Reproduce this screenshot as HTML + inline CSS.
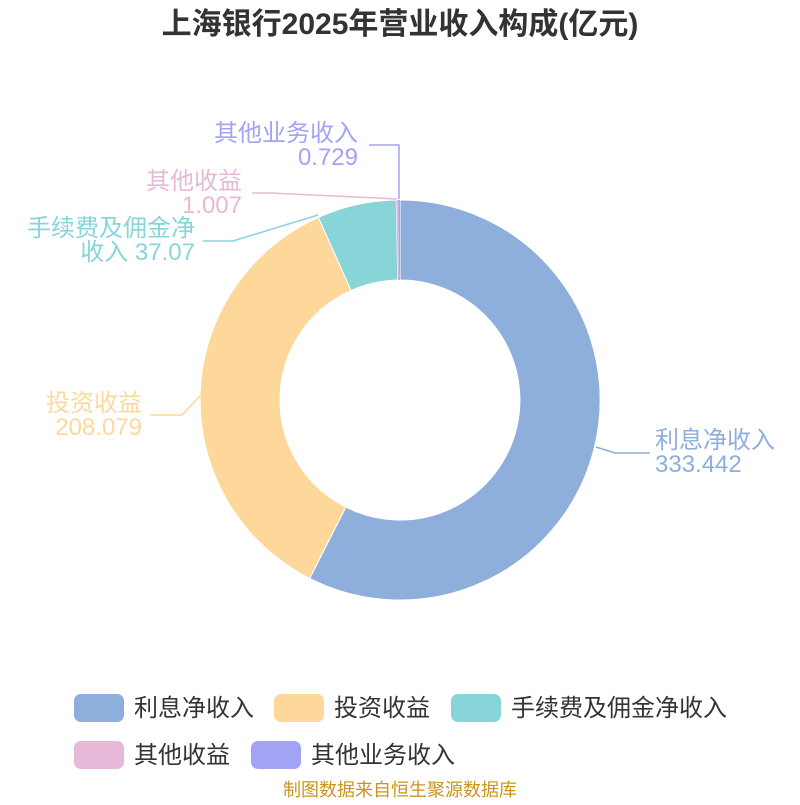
<!DOCTYPE html>
<html><head><meta charset="utf-8"><style>
body{margin:0;background:#fff;}
svg text{font-family:"Liberation Sans","Noto Sans CJK SC",sans-serif;}
</style></head><body>
<svg width="800" height="800" viewBox="0 0 800 800" xmlns="http://www.w3.org/2000/svg">
<text x="400" y="34" text-anchor="middle" font-size="30" font-weight="bold" fill="#333">上海银行2025年营业收入构成(亿元)</text>
<g stroke="#fff" stroke-width="1">
<path d="M400,200 A200,200 0 1,1 309.7,578.4 L345.8,507.1 A120,120 0 1,0 400,280 Z" fill="#8eaedb"/>
<path d="M309.7,578.4 A200,200 0 0,1 318.4,217.4 L351.1,290.4 A120,120 0 0,0 345.8,507.1 Z" fill="#fed89b"/>
<path d="M318.4,217.4 A200,200 0 0,1 396.3,200 L397.8,280 A120,120 0 0,0 351.1,290.4 Z" fill="#87d5d8"/>
<path d="M396.3,200 A200,200 0 0,1 398.4,200 L399.1,280 A120,120 0 0,0 397.8,280 Z" fill="#e6b9d8" stroke="none"/>
<path d="M398.4,200 A200,200 0 0,1 400,200 L400,280 A120,120 0 0,0 399.1,280 Z" fill="#a3a3f5" stroke="none"/>
</g>
<g fill="none" stroke-width="1.5">
<polyline points="596,447 615,453 650,453" stroke="#8eaedb"/>
<polyline points="200,396 182,415 150,415" stroke="#fed89b"/>
<polyline points="318,215 233,241 203,241" stroke="#87d5d8"/>
<polyline points="397,199 270,193 252,193" stroke="#e6b9d8"/>
<polyline points="399,199 399,145 369,145" stroke="#a3a3f5"/>
</g>
<g font-size="24">
<text x="655" y="448" fill="#8eaedb">利息净收入</text>
<text x="655" y="472" fill="#8eaedb">333.442</text>
<text x="142" y="411" text-anchor="end" fill="#fed89b">投资收益</text>
<text x="142" y="435" text-anchor="end" fill="#fed89b">208.079</text>
<text x="195" y="236" text-anchor="end" fill="#87d5d8">手续费及佣金净</text>
<text x="195" y="260" text-anchor="end" fill="#87d5d8">收入 37.07</text>
<text x="242" y="189" text-anchor="end" fill="#e6b9d8">其他收益</text>
<text x="242" y="213" text-anchor="end" fill="#e6b9d8">1.007</text>
<text x="358" y="141" text-anchor="end" fill="#a3a3f5">其他业务收入</text>
<text x="358" y="165" text-anchor="end" fill="#a3a3f5">0.729</text>
</g>
<g font-size="24" fill="#333">
<rect x="74" y="694" width="50" height="28" rx="7" fill="#8eaedb"/><text x="134" y="716">利息净收入</text>
<rect x="274" y="694" width="50" height="28" rx="7" fill="#fed89b"/><text x="334" y="716">投资收益</text>
<rect x="451" y="694" width="50" height="28" rx="7" fill="#87d5d8"/><text x="511" y="716">手续费及佣金净收入</text>
<rect x="74" y="741" width="50" height="28" rx="7" fill="#e6b9d8"/><text x="134" y="763">其他收益</text>
<rect x="251" y="741" width="50" height="28" rx="7" fill="#a3a3f5"/><text x="311" y="763">其他业务收入</text>
</g>
<text x="400" y="796" text-anchor="middle" font-size="18" fill="#c8961e">制图数据来自恒生聚源数据库</text>
</svg>
</body></html>
